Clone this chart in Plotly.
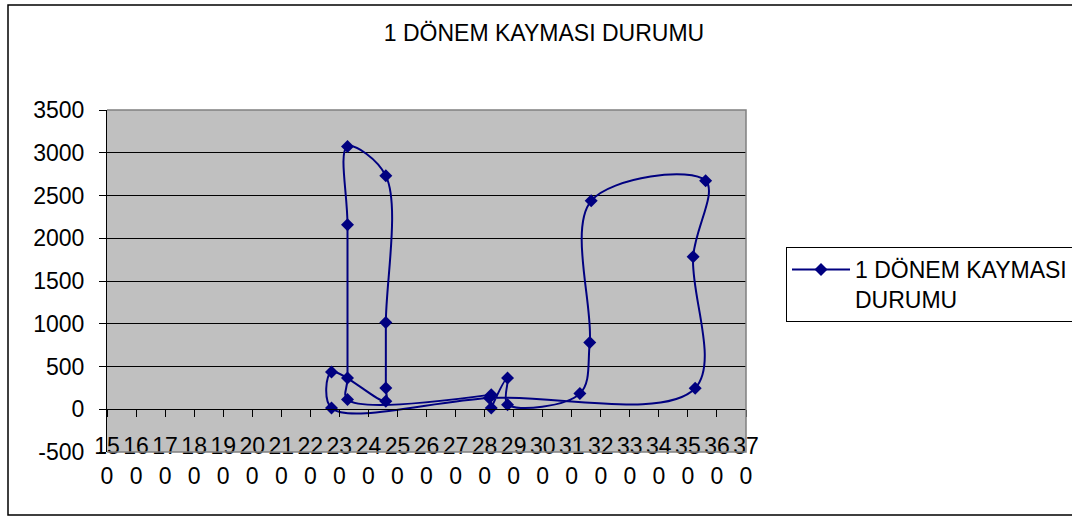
import plotly.graph_objects as go

# Series values in time order (x: level, y: 1-period lag amount)
x_vals = [282.3, 287.9, 287.9, 312.8, 316.2, 316.7, 356.1, 351.8, 352.5, 281.6,
          227.3, 227.3, 246.0, 246.0, 246.0, 246.0, 232.8, 232.8, 232.8, 232.8, 282.3]
y_vals = [15, 365, 54, 183, 782, 2438, 2672, 1785, 245, 132,
          15, 435, 93, 249, 1015, 2730, 3072, 2158, 365, 113, 171]

series_name = "1 DÖNEM KAYMASI<br>DURUMU"
title_text = "1 DÖNEM KAYMASI DURUMU"

x_ticks = list(range(150, 371, 10))
x_tick_labels = [f"{v // 10}<br>{v % 10}" for v in x_ticks]
y_ticks = list(range(-500, 3501, 500))
y_tick_labels = [str(v) for v in y_ticks]

W, H = 1072, 517
L, R, T, B = 107, 326, 110, 65
pw, ph = W - L - R, H - T - B

def px_x(p):
    return (p - L) / pw

def px_y(p):
    return (H - B - p) / ph

FONT = "Liberation Sans, Arial, sans-serif"
NAVY = "#000080"

fig = go.Figure()
fig.add_trace(go.Scatter(
    x=x_vals, y=y_vals, name=series_name, mode="lines+markers",
    line=dict(color=NAVY, width=2, shape="spline", smoothing=1.0),
    marker=dict(symbol="diamond", size=10, color=NAVY),
    showlegend=True,
))

shapes = [
    # gray frame of the plot area (top, right, bottom)
    dict(type="path", xref="paper", yref="paper",
         path="M 0,1 L 1,1 L 1,0 L 0,0", line=dict(color="#808080", width=1.5)),
    # outer chart border
    dict(type="rect", xref="paper", yref="paper",
         x0=px_x(8), x1=px_x(1085), y0=px_y(515), y1=px_y(5),
         line=dict(color="black", width=1.5), fillcolor="rgba(0,0,0,0)"),
]

fig.update_layout(
    width=W, height=H,
    margin=dict(l=L, r=R, t=T, b=B, autoexpand=False),
    paper_bgcolor="white", plot_bgcolor="#C0C0C0",
    font=dict(family=FONT, size=23, color="black"),
    title=dict(text=title_text, x=544 / W, xanchor="center", xref="container",
               y=1 - 33 / H, yanchor="middle", yref="container",
               font=dict(family=FONT, size=23, color="black")),
    xaxis=dict(range=[150, 370], tickmode="array", tickvals=x_ticks, ticktext=x_tick_labels,
               showgrid=False, zeroline=False, showline=True, linecolor="black", linewidth=1,
               ticks="outside", ticklen=7, tickcolor="black", tickwidth=1,
               anchor="free", position=0.125, ticklabelstandoff=9,
               tickfont=dict(family=FONT, size=23, color="black")),
    yaxis=dict(range=[-500, 3500], tickmode="array", tickvals=y_ticks, ticktext=y_tick_labels,
               showgrid=True, gridcolor="black", gridwidth=1, zeroline=False,
               showline=True, linecolor="black", linewidth=1,
               ticks="outside", ticklen=7, tickcolor="black", tickwidth=1,
               ticklabelstandoff=10,
               tickfont=dict(family=FONT, size=23, color="black")),
    legend=dict(x=px_x(786), y=px_y(247), xanchor="left", yanchor="top",
                bordercolor="black", borderwidth=1, bgcolor="white",
                valign="top", itemwidth=58,
                font=dict(family=FONT, size=23, color="black")),
    shapes=shapes,
)

fig.write_html("out.html")
